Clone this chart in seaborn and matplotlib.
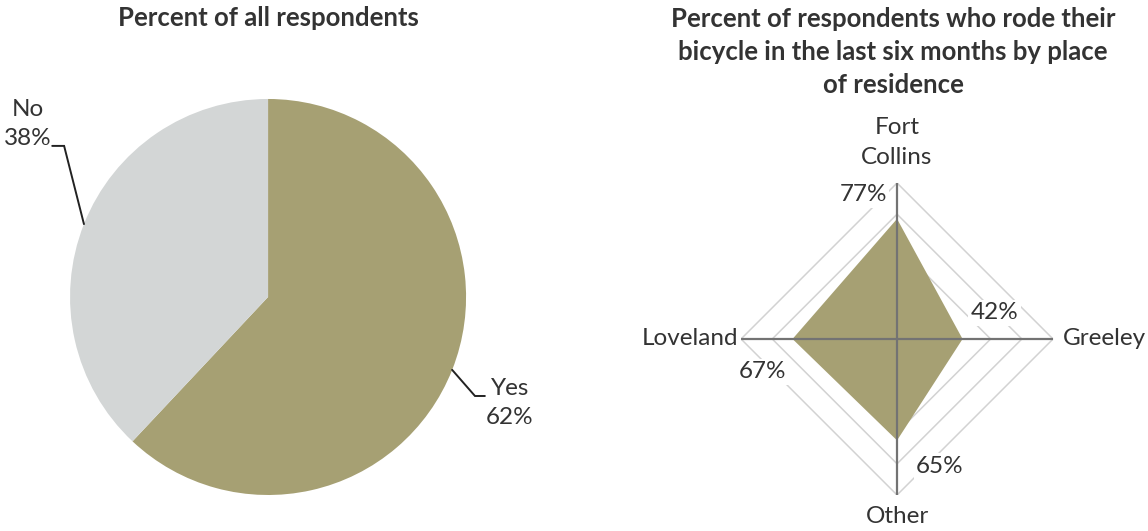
import numpy as np
import matplotlib
matplotlib.use("Agg")
import matplotlib.pyplot as plt
import seaborn as sns

# Pie: share of all respondents who rode a bicycle in the last six months
pie_labels = ["Yes", "No"]
pie_values = [62, 38]

# Radar: share who rode, by place of residence (clockwise from top)
places = ["Fort Collins", "Greeley", "Other", "Loveland"]
place_values = [77, 42, 65, 67]
ring_levels = [20, 40, 60, 80, 100]

left_title = "Percent of all respondents"
right_title = ("Percent of respondents who rode their\n"
               "bicycle in the last six months by place\n"
               "of residence")

sns.set_theme(style="white")
plt.rcParams["font.family"] = ["Lato", "DejaVu Sans"]

olive, grey = sns.color_palette(["#a6a073", "#d3d6d6"])
text_color = "#333333"
label_size = 17.5
title_size = 18.5

fig = plt.figure(figsize=(11.48, 5.31), dpi=100)

# ---------------- pie ----------------
ax_pie = fig.add_axes([0.061, 0.0678, 0.345, 0.7458])
wedges, _ = ax_pie.pie(pie_values, colors=[olive, grey], startangle=90,
                       counterclock=False, radius=1.0,
                       wedgeprops=dict(linewidth=0, edgecolor="none"))
ax_pie.set_xlim(-1, 1)
ax_pie.set_ylim(-1, 1)
ax_pie.set_aspect("equal")
ax_pie.axis("off")

# leader lines from the middle of each wedge's edge
elbows = {"Yes": (1.045, -0.50, 1.095, -0.535),
          "No": (-1.03, 0.763, -1.09, 0.875)}
for w, lab, val in zip(wedges, pie_labels, pie_values):
    mid = np.deg2rad((w.theta1 + w.theta2) / 2)
    x0, y0 = np.cos(mid), np.sin(mid)
    ex, ey, tx, ty = elbows[lab]
    ax_pie.plot([x0, ex, tx], [y0, ey, ey], color="#222222", lw=1.4,
                clip_on=False, solid_joinstyle="miter")
    ax_pie.text(tx + (0.005 if lab == "Yes" else -0.005), ty,
                f"{lab}\n{val}%", ha="left" if lab == "Yes" else "right",
                va="center", multialignment="center", fontsize=label_size,
                color=text_color, linespacing=1.45)

fig.text(0.2335, 0.966, left_title, ha="center", va="center",
         fontsize=title_size, fontweight="bold", color=text_color)

# ---------------- radar ----------------
ax_r = fig.add_axes([0.6455, 0.0678, 0.2718, 0.5876], projection="polar")
ax_r.set_theta_zero_location("N")
ax_r.set_theta_direction(-1)
ax_r.set_ylim(0, 100)
ax_r.grid(False)
ax_r.set_xticks([])
ax_r.set_yticks([])
ax_r.spines["polar"].set_visible(False)
ax_r.patch.set_alpha(0)

theta = np.deg2rad(np.arange(len(places)) * 90.0)
closed_theta = np.append(theta, theta[0])

for lvl in ring_levels:
    ax_r.plot(closed_theta, [lvl] * len(closed_theta), color="#d2d2d2",
              lw=1.1, zorder=1)

vals = np.array(place_values, dtype=float)
ax_r.fill(closed_theta, np.append(vals, vals[0]), color=olive, lw=0, zorder=2)

for t in theta:
    ax_r.plot([t, t], [0, 100], color="#737373", lw=1.6, zorder=3)

# category labels
cat_pos = {
    "Fort Collins": dict(r=126, ha="center", va="center", text="Fort\nCollins"),
    "Greeley": dict(r=106, ha="left", va="center", text="Greeley"),
    "Other": dict(r=114, ha="center", va="center", text="Other"),
    "Loveland": dict(r=102, ha="right", va="center", text="Loveland"),
}
for t, name in zip(theta, places):
    p = cat_pos[name]
    ax_r.text(t, p["r"], p["text"], ha=p["ha"], va=p["va"],
              fontsize=label_size, color=text_color, linespacing=1.55,
              zorder=5)

# value labels next to each vertex
offsets = {"Fort Collins": (-34, 24), "Greeley": (32, 26),
           "Other": (43, -26), "Loveland": (-30, -33)}
for t, name, v in zip(theta, places, place_values):
    ax_r.annotate(f"{v}%", xy=(t, v), xytext=offsets[name],
                  textcoords="offset pixels", ha="center", va="center",
                  fontsize=label_size, color=text_color, zorder=6,
                  bbox=dict(facecolor="white", edgecolor="none", pad=2))

fig.text(0.778, 0.902, right_title, ha="center", va="center",
         fontsize=title_size, fontweight="bold", color=text_color,
         linespacing=1.45)

fig.savefig("out.png", dpi=100, facecolor="white")
